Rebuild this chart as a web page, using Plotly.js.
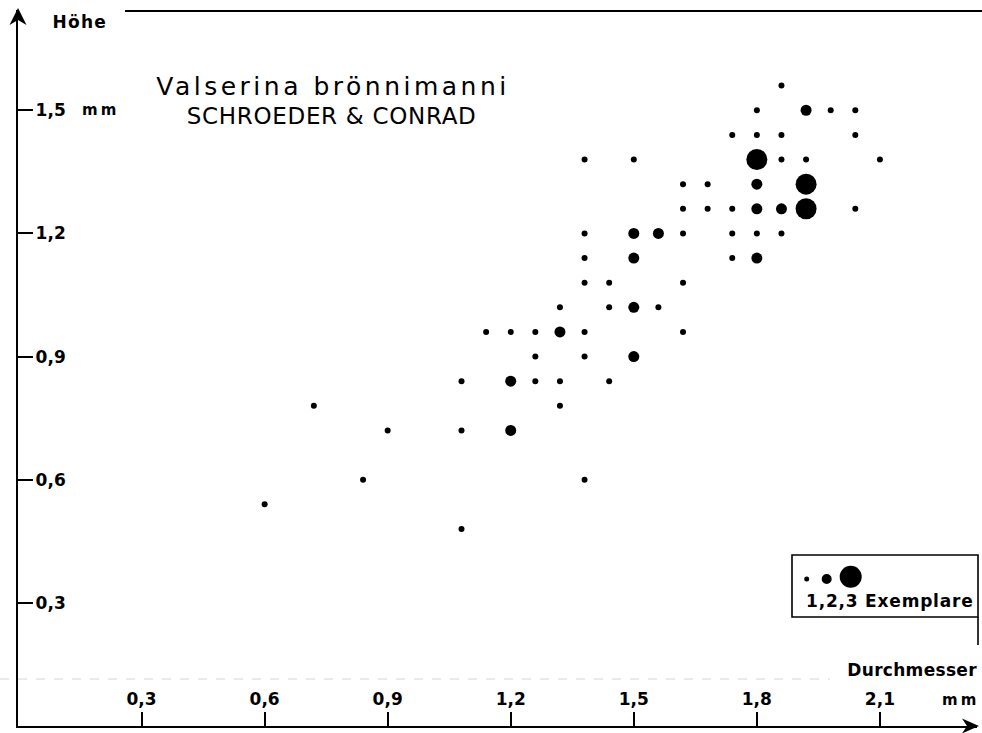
<!DOCTYPE html>
<html>
<head>
<meta charset="utf-8">
<script src="https://cdn.plot.ly/plotly-3.0.1.min.js"></script>
<style>
html,body{margin:0;padding:0;background:#fff;}
#chart{width:982px;height:733px;}
.annotation[data-index="0"] text{letter-spacing:3.5px;}
.annotation[data-index="1"] text{letter-spacing:0.7px;}
.annotation[data-index="2"] text{letter-spacing:1.2px;}
.annotation[data-index="3"] text{letter-spacing:0.3px;}
.annotation[data-index="4"] text{letter-spacing:3px;}
.annotation[data-index="5"] text{letter-spacing:3px;}
.annotation[data-index="6"] text{letter-spacing:0.8px;}
</style>
</head>
<body>
<div id="chart"></div>
<script>
// Durchmesser (mm), Höhe (mm), Anzahl Exemplare – one entry per dot, listed row by row
const diameter = [
  1.08,
  0.60,
  0.84, 1.38,
  0.90, 1.08, 1.20,
  0.72, 1.32,
  1.08, 1.20, 1.26, 1.32, 1.44,
  1.26, 1.38, 1.50,
  1.14, 1.20, 1.26, 1.32, 1.38, 1.62,
  1.32, 1.44, 1.50, 1.56,
  1.38, 1.44, 1.62,
  1.38, 1.50, 1.74, 1.80,
  1.38, 1.50, 1.56, 1.62, 1.74, 1.80, 1.86,
  1.62, 1.68, 1.74, 1.80, 1.86, 1.92, 2.04,
  1.62, 1.68, 1.80, 1.92,
  1.38, 1.50, 1.80, 1.86, 1.92, 2.10,
  1.74, 1.80, 1.86, 2.04,
  1.80, 1.92, 1.98, 2.04,
  1.86
];
const height = [
  0.48,
  0.54,
  0.60, 0.60,
  0.72, 0.72, 0.72,
  0.78, 0.78,
  0.84, 0.84, 0.84, 0.84, 0.84,
  0.90, 0.90, 0.90,
  0.96, 0.96, 0.96, 0.96, 0.96, 0.96,
  1.02, 1.02, 1.02, 1.02,
  1.08, 1.08, 1.08,
  1.14, 1.14, 1.14, 1.14,
  1.20, 1.20, 1.20, 1.20, 1.20, 1.20, 1.20,
  1.26, 1.26, 1.26, 1.26, 1.26, 1.26, 1.26,
  1.32, 1.32, 1.32, 1.32,
  1.38, 1.38, 1.38, 1.38, 1.38, 1.38,
  1.44, 1.44, 1.44, 1.44,
  1.50, 1.50, 1.50, 1.50,
  1.56
];
const count = [
  1,
  1,
  1, 1,
  1, 1, 2,
  1, 1,
  1, 2, 1, 1, 1,
  1, 1, 2,
  1, 1, 1, 2, 1, 1,
  1, 1, 2, 1,
  1, 1, 1,
  1, 2, 1, 2,
  1, 2, 2, 1, 1, 1, 1,
  1, 1, 1, 2, 2, 3, 1,
  1, 1, 2, 3,
  1, 1, 3, 1, 1, 1,
  1, 1, 1, 1,
  1, 2, 1, 1,
  1
];
const tickVals = [0.3, 0.6, 0.9, 1.2, 1.5, 1.8, 2.1];
const xTickText = ['0,3', '0,6', '0,9', '1,2', '1,5', '1,8', '2,1'];
const yTickVals = [0.3, 0.6, 0.9, 1.2, 1.5];
const yTickText = ['0,3', '0,6', '0,9', '1,2', '1,5'];

// layout geometry (pixels)
const L = 18, T = 10, W = 959, H = 716;
const px = x => (x - L) / W;
const py = y => (T + H - y) / H;
const sizeFor = {1: 6, 2: 11, 3: 21};
const FONT = 'DejaVu Sans, Verdana, sans-serif';

const trace = {
  type: 'scatter', mode: 'markers',
  x: diameter, y: height,
  marker: {color: '#000', opacity: 1, size: count.map(c => sizeFor[c]), line: {width: 0}},
  hoverinfo: 'skip', cliponaxis: false
};

function ann(text, cx, cy, size, weight) {
  return {text: text, xref: 'paper', yref: 'paper', x: px(cx), y: py(cy),
    xanchor: 'center', yanchor: 'middle', showarrow: false,
    font: {family: FONT, size: size, color: '#000', weight: weight || 'normal'}};
}
function circ(cx, cy, d) {
  const r = d / 2;
  return {type: 'circle', xref: 'paper', yref: 'paper',
    x0: px(cx - r), x1: px(cx + r), y0: py(cy + r), y1: py(cy - r),
    fillcolor: '#000', line: {width: 0}};
}
function line(x0, y0, x1, y1, w, color, dash) {
  return {type: 'line', xref: 'paper', yref: 'paper',
    x0: px(x0), y0: py(y0), x1: px(x1), y1: py(y1),
    line: {color: color || '#000', width: w, dash: dash || 'solid'}};
}
function path(pts) {
  return {type: 'path', xref: 'paper', yref: 'paper',
    path: 'M ' + pts.map(p => px(p[0]) + ',' + py(p[1])).join(' L ') + ' Z',
    fillcolor: '#000', line: {width: 0}};
}

const xScale = 410.2, yScale = 410.5;
const tickFont = {family: FONT, size: 17, color: '#000', weight: 'bold'};
const layout = {
  width: 982, height: 733,
  margin: {l: L, r: 982 - L - W, t: T, b: 733 - T - H, pad: 0},
  paper_bgcolor: '#fff', plot_bgcolor: '#fff',
  showlegend: false, hovermode: false,
  font: {family: FONT, color: '#000'},
  xaxis: {
    range: [-0.0012, W / xScale - 0.0012],
    showgrid: false, zeroline: false,
    showline: true, linecolor: '#000', linewidth: 2,
    tickmode: 'array', tickvals: tickVals, ticktext: xTickText,
    ticks: 'inside', ticklen: 14, tickwidth: 2, tickcolor: '#000',
    ticklabelposition: 'inside', ticklabelstandoff: 4,
    tickfont: tickFont
  },
  yaxis: {
    range: [0, H / yScale],
    showgrid: false, zeroline: false,
    showline: true, linecolor: '#000', linewidth: 2,
    tickmode: 'array', tickvals: yTickVals, ticktext: yTickText,
    ticks: 'inside', ticklen: 15, tickwidth: 2, tickcolor: '#000',
    ticklabelposition: 'inside', ticklabelstandoff: 3,
    tickfont: tickFont
  },
  annotations: [
    ann('Valserina brönnimanni', 333, 86, 25),
    ann('SCHROEDER & CONRAD', 331, 116, 23),
    ann('Höhe', 80, 22, 17, 'bold'),
    ann('Durchmesser', 912, 670, 17, 'bold'),
    ann('mm', 960, 700, 15, 'bold'),
    ann('mm', 100, 110, 15, 'bold'),
    ann('1,2,3 Exemplare', 890, 601, 17, 'bold')
  ],
  shapes: [
    line(125, 11, 982, 11, 2),
    line(0, 679, 830, 679, 1, '#d4d4d4', 'dash'),
    {type: 'rect', xref: 'paper', yref: 'paper', x0: px(792), x1: px(978), y0: py(617), y1: py(555),
      line: {color: '#000', width: 1.6}, fillcolor: 'rgba(0,0,0,0)'},
    line(978, 617, 978, 645, 1.6),
    circ(806.7, 579, 5),
    circ(826.7, 579, 10),
    circ(850.7, 576.7, 22),
    path([[18, 8], [9.5, 25], [18, 20], [26.5, 25]]),
    path([[979, 726], [962, 718.5], [967, 726], [962, 733.5]])
  ]
};

Plotly.newPlot('chart', [trace], layout, {staticPlot: true, displayModeBar: false});
</script>
</body>
</html>
